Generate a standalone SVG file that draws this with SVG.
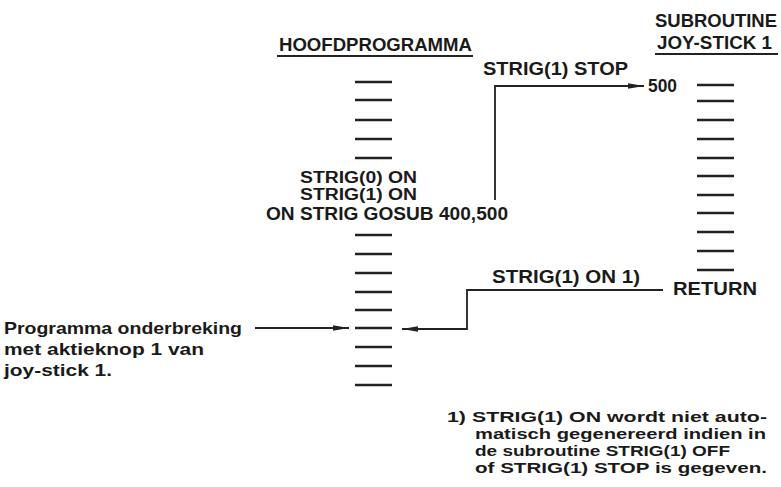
<svg xmlns="http://www.w3.org/2000/svg" width="781" height="487" viewBox="0 0 781 487">
<defs>
<style>
text{font-family:"Liberation Sans",Arial,sans-serif;font-weight:bold;fill:#1a1a1a}
.t{font-size:18px}
.m{font-size:16px}
.s{font-size:17px}
.f{font-size:15px}
.d{stroke:#222;stroke-width:2.4}
.u{stroke:#222;stroke-width:2}
.c{stroke:#222;stroke-width:1.8;fill:none}
</style>
<marker id="ah" viewBox="0 0 16 8" refX="16" refY="4" markerWidth="16" markerHeight="8" markerUnits="userSpaceOnUse" orient="auto">
<path d="M0,1.3 L16,4 L0,6.7 Z" fill="#222"/>
</marker>
</defs>
<rect width="781" height="487" fill="#fff"/>
<g id="hoofdprogramma">
<text class="t" x="279" y="51" textLength="193" lengthAdjust="spacingAndGlyphs">HOOFDPROGRAMMA</text>
<line class="u" x1="277" y1="56" x2="473" y2="56"/>
<g class="d">
<line x1="355" y1="82" x2="392" y2="82"/>
<line x1="355" y1="100" x2="392" y2="100"/>
<line x1="355" y1="120" x2="392" y2="120"/>
<line x1="355" y1="139" x2="392" y2="139"/>
<line x1="355" y1="158" x2="392" y2="158"/>
<line x1="355" y1="235" x2="392" y2="235"/>
<line x1="355" y1="254" x2="392" y2="254"/>
<line x1="355" y1="273" x2="392" y2="273"/>
<line x1="355" y1="292" x2="392" y2="292"/>
<line x1="355" y1="310" x2="392" y2="310"/>
<line x1="355" y1="328" x2="392" y2="328"/>
<line x1="355" y1="347" x2="392" y2="347"/>
<line x1="355" y1="366" x2="392" y2="366"/>
<line x1="355" y1="385" x2="392" y2="385"/>
</g>
<text class="m" x="300" y="183" textLength="117" lengthAdjust="spacingAndGlyphs">STRIG(0) ON</text>
<text class="m" x="300" y="200" textLength="117" lengthAdjust="spacingAndGlyphs">STRIG(1) ON</text>
<text class="t" x="266" y="220" textLength="242" lengthAdjust="spacingAndGlyphs">ON STRIG GOSUB 400,500</text>
</g>
<g id="subroutine">
<text class="t" x="655" y="27" textLength="122" lengthAdjust="spacingAndGlyphs">SUBROUTINE</text>
<text class="t" x="657" y="49" textLength="115" lengthAdjust="spacingAndGlyphs">JOY-STICK 1</text>
<line class="u" x1="655" y1="54" x2="778" y2="54"/>
<text class="t" x="648" y="92" textLength="29" lengthAdjust="spacingAndGlyphs">500</text>
<g class="d">
<line x1="697" y1="85" x2="734" y2="85"/>
<line x1="697" y1="101" x2="734" y2="101"/>
<line x1="697" y1="120" x2="734" y2="120"/>
<line x1="697" y1="139" x2="734" y2="139"/>
<line x1="697" y1="158" x2="734" y2="158"/>
<line x1="697" y1="176" x2="734" y2="176"/>
<line x1="697" y1="195" x2="734" y2="195"/>
<line x1="697" y1="213" x2="734" y2="213"/>
<line x1="697" y1="232" x2="734" y2="232"/>
<line x1="697" y1="251" x2="734" y2="251"/>
<line x1="697" y1="270" x2="734" y2="270"/>
</g>
<text class="t" x="673" y="295" textLength="84" lengthAdjust="spacingAndGlyphs">RETURN</text>
</g>
<g id="interrupt-label">
<text class="s" x="4" y="334" textLength="238" lengthAdjust="spacingAndGlyphs">Programma onderbreking</text>
<text class="s" x="4" y="355" textLength="200" lengthAdjust="spacingAndGlyphs">met aktieknop 1 van</text>
<text class="s" x="4" y="376" textLength="108" lengthAdjust="spacingAndGlyphs">joy-stick 1.</text>
</g>
<g id="footnote">
<text class="f" x="447" y="422" textLength="320" lengthAdjust="spacingAndGlyphs">1) STRIG(1) ON wordt niet auto-</text>
<text class="f" x="475" y="439" textLength="291" lengthAdjust="spacingAndGlyphs">matisch gegenereerd indien in</text>
<text class="f" x="475" y="456" textLength="255" lengthAdjust="spacingAndGlyphs">de subroutine STRIG(1) OFF</text>
<text class="f" x="475" y="473" textLength="292" lengthAdjust="spacingAndGlyphs">of STRIG(1) STOP is gegeven.</text>
</g>
<g id="connectors">
<text class="t" x="483" y="75" textLength="145" lengthAdjust="spacingAndGlyphs">STRIG(1) STOP</text>
<path class="c" d="M495,200 V86 H644" marker-end="url(#ah)"/>
<text class="t" x="492" y="283" textLength="148" lengthAdjust="spacingAndGlyphs">STRIG(1) ON 1)</text>
<path class="c" d="M663,290 H467 V329 H402" marker-end="url(#ah)"/>
<path class="c" d="M255,328 H349" marker-end="url(#ah)"/>
</g>
</svg>
